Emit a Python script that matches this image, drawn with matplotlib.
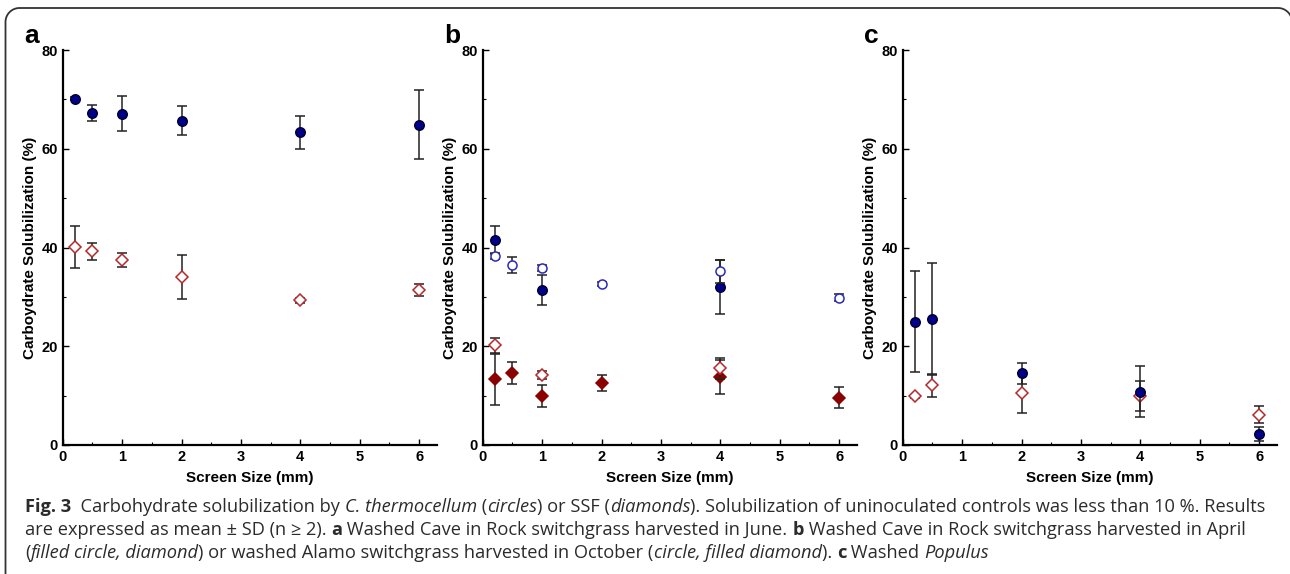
import matplotlib
matplotlib.use('Agg')
import numpy as np
import matplotlib.pyplot as plt
from matplotlib.lines import Line2D
from matplotlib.ticker import MultipleLocator

# ---- data ----
# panel a: washed Cave in Rock, June
a_x = [0.2, 0.5, 1, 2, 4, 6]
a_circ = [70.1, 67.3, 67.1, 65.7, 63.3, 64.9]
a_circ_err = [0.3, 1.6, 3.6, 2.9, 3.4, 7.0]
a_diam = [40.1, 39.2, 37.5, 34.0, 29.3, 31.4]
a_diam_err = [4.2, 1.8, 1.4, 4.4, 0.5, 1.3]

# panel b: April (filled circle, open diamond) / Alamo October (open circle, filled diamond)
b_apr_x = [0.2, 1, 4]
b_apr_circ = [41.5, 31.4, 32.0]
b_apr_circ_err = [2.9, 3.0, 5.4]
b_apr_diam = [20.2, 14.1, 15.5]
b_apr_diam_err = [1.5, 0.8, 2.2]
b_oct_x = [0.2, 0.5, 1, 2, 4, 6]
b_oct_circ = [38.3, 36.4, 35.8, 32.7, 35.2, 29.8]
b_oct_circ_err = [0.6, 1.6, 0.6, 0.4, 2.3, 0.7]
b_oct_diam = [13.3, 14.6, 9.9, 12.5, 13.8, 9.6]
b_oct_diam_err = [5.1, 2.3, 2.3, 1.6, 3.5, 2.2]

# panel c: washed Populus
c_x = [0.2, 0.5, 2, 4, 6]
c_circ = [25.0, 25.5, 14.5, 10.8, 2.3]
c_circ_err = [10.3, 11.3, 2.2, 5.1, 1.4]
c_diam = [9.9, 12.1, 10.5, 9.9, 6.1]
c_diam_err = [0.3, 2.3, 4.1, 3.1, 1.7]

x_ticks = [0, 1, 2, 3, 4, 5, 6]
y_ticks = [0, 20, 40, 60, 80]
panel_letters = ['a', 'b', 'c']
x_label = 'Screen Size (mm)'
y_label = 'Carboydrate Solubilization (%)'

caption_lines = [
    [('Fig. 3', 'b'), ('  Carbohydrate solubilization by ', 'n'), ('C. thermocellum', 'i'),
     (' (', 'n'), ('circles', 'i'), (') or SSF (', 'n'), ('diamonds', 'i'),
     ('). Solubilization of uninoculated controls was less than 10 %. Results', 'n')],
    [('are expressed as mean \u00b1 SD (n \u2265 2). ', 'n'), ('a', 'b'),
     (' Washed Cave in Rock switchgrass harvested in June. ', 'n'), ('b', 'b'),
     (' Washed Cave in Rock switchgrass harvested in April', 'n')],
    [('(', 'n'), ('filled circle, diamond', 'i'),
     (') or washed Alamo switchgrass harvested in October (', 'n'),
     ('circle, filled diamond', 'i'), ('). ', 'n'), ('c', 'b'), (' Washed ', 'n'),
     ('Populus', 'i')],
]

NAVY = '#00008B'
BLUE = '#2a2ab8'
RED = '#b8282a'
DARKRED = '#8b0000'
ERR = '#222222'

W, H = 1290, 574
plt.rcParams['font.family'] = ['Liberation Sans', 'DejaVu Sans']
fig = plt.figure(figsize=(W / 100, H / 100), dpi=100)

lefts = [62.7, 482.7, 902.7]
ax_w, ax_bot, ax_h = 374.3, H - 445, 395


def series(ax, x, y, err, marker, face, edge, ms, z):
    ax.errorbar(x, y, yerr=err, fmt='none', ecolor=ERR, elinewidth=1.1,
                capsize=3.5, capthick=1.1, zorder=z)
    ax.plot(x, y, linestyle='none', marker=marker, ms=ms, mfc=face, mec=edge,
            mew=1.1, zorder=z + 0.5, clip_on=False)


axes = []
for i, left in enumerate(lefts):
    ax = fig.add_axes([left / W, ax_bot / H, ax_w / W, ax_h / H])
    ax.set_xlim(0, 6.3)
    ax.set_ylim(0, 80)
    for s in ['top', 'right']:
        ax.spines[s].set_visible(False)
    for s in ['left', 'bottom']:
        ax.spines[s].set_linewidth(1.6)
    ax.set_xticks(x_ticks)
    ax.set_yticks(y_ticks)
    ax.xaxis.set_minor_locator(MultipleLocator(0.5))
    ax.yaxis.set_minor_locator(MultipleLocator(10))
    ax.tick_params(which='major', direction='in', length=4, width=1,
                   labelsize=10.5, pad=3.5)
    ax.tick_params(which='minor', direction='in', length=2.5, width=0.8)
    for lbl in ax.get_xticklabels() + ax.get_yticklabels():
        lbl.set_fontweight('bold')
    ax.set_xlabel(x_label, fontsize=11, fontweight='bold', labelpad=5)
    ax.set_ylabel(y_label, fontsize=11, fontweight='bold', labelpad=3)
    fig.text((left - 38.7) / W, 1 - 43 / H, panel_letters[i], fontsize=19,
             fontweight='bold', va='baseline')
    axes.append(ax)

ax_a, ax_b, ax_c = axes
series(ax_a, a_x, a_diam, a_diam_err, 'D', 'white', RED, 6.5, 2)
series(ax_a, a_x, a_circ, a_circ_err, 'o', NAVY, '#000033', 6.8, 3)

series(ax_b, b_oct_x, b_oct_diam, b_oct_diam_err, 'D', DARKRED, DARKRED, 6.5, 2)
series(ax_b, b_apr_x, b_apr_diam, b_apr_diam_err, 'D', 'white', RED, 6.5, 3)
series(ax_b, b_apr_x, b_apr_circ, b_apr_circ_err, 'o', NAVY, '#000033', 6.8, 4)
series(ax_b, b_oct_x, b_oct_circ, b_oct_circ_err, 'o', 'white', BLUE, 6.5, 5)

series(ax_c, c_x, c_diam, c_diam_err, 'D', 'white', RED, 6.5, 2)
series(ax_c, c_x, c_circ, c_circ_err, 'o', NAVY, '#000033', 6.8, 3)

# rounded frame around the figure (pixel geometry, y measured from top)
r = 14.0
x0, x1, ytop = 5.5, 1292.0, 8.0
t = np.linspace(0, np.pi / 2, 20)
# top-left corner: from left edge up to top edge
tl_x = x0 + r - r * np.cos(t)
tl_y = ytop + r - r * np.sin(t)
# top-right corner: from top edge down to right edge
tr_x = x1 - r + r * np.sin(t)
tr_y = ytop + r - r * np.cos(t)
px = np.concatenate([[x0], tl_x, tr_x, [x1]])
py = np.concatenate([[H + 20], tl_y, tr_y, [H + 20]])
fig.add_artist(Line2D(px / W, 1 - py / H, transform=fig.transFigure, lw=1.3,
                      color='#333333', clip_on=False))

# caption with mixed styles, placed segment by segment
CAP_FONT = ['Open Sans', 'DejaVu Sans']
renderer = fig.canvas.get_renderer()


def seg_width(text, style, size):
    kw = dict(fontsize=size, family=CAP_FONT,
              fontweight='bold' if style == 'b' else 'normal',
              fontstyle='italic' if style == 'i' else 'normal')
    t1 = fig.text(0, 0, '|' + text + '|', **kw)
    t2 = fig.text(0, 0, '||', **kw)
    w = t1.get_window_extent(renderer).width - t2.get_window_extent(renderer).width
    t1.remove()
    t2.remove()
    return w, kw


target = 1240.0
w0 = sum(seg_width(tx, s, 12)[0] for tx, s in caption_lines[0])
cap_size = 12 * target / w0

baselines = [512, 535, 558]
for line, base in zip(caption_lines, baselines):
    x = 25.0
    for text, style in line:
        w, kw = seg_width(text, style, cap_size)
        fig.text(x / W, 1 - base / H, text, va='baseline', ha='left',
                 color='#2b2b2b', **kw)
        x += w

fig.savefig('out.png', dpi=100)
